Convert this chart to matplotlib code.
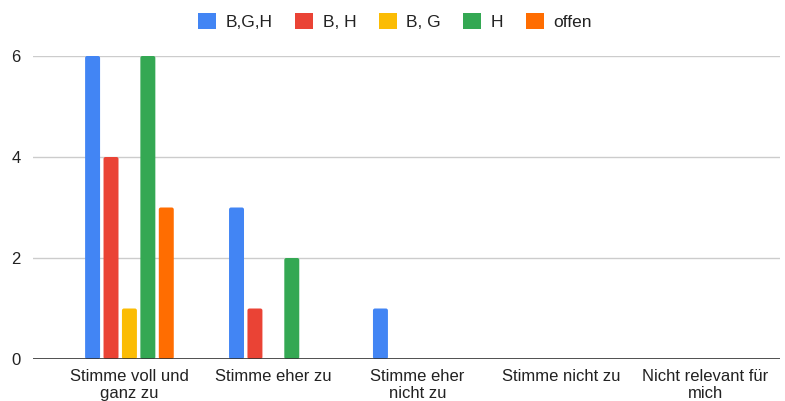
import matplotlib
matplotlib.use("Agg")
import matplotlib.pyplot as plt
import numpy as np
from matplotlib.patches import Patch, FancyBboxPatch

categories = ["Stimme voll und\nganz zu", "Stimme eher zu", "Stimme eher\nnicht zu",
              "Stimme nicht zu", "Nicht relevant für\nmich"]
series_names = ["B,G,H", "B, H", "B, G", "H", "offen"]
bgh = [6, 3, 1, 0, 0]
bh = [4, 1, 0, 0, 0]
bg = [1, 0, 0, 0, 0]
h = [6, 2, 0, 0, 0]
offen = [3, 0, 0, 0, 0]
yticks = [0, 2, 4, 6]

series = [bgh, bh, bg, h, offen]
colors = ["#4285F4", "#EA4335", "#FBBC04", "#34A853", "#FF6D01"]

plt.rcParams["font.family"] = ["Liberation Sans", "DejaVu Sans"]
fig = plt.figure(figsize=(7.85, 4.01), dpi=100)
ax = fig.add_axes([33 / 785, 1 - 359 / 401, (780 - 33) / 785, (359 - 56) / 401])

xlim = (-0.67, 4.52)
ylim = (0, 6)
ax.set_xlim(*xlim)
ax.set_ylim(*ylim)

x = np.arange(len(categories))
step = 0.128
width = 0.104

# data units per pixel in each direction, for slightly rounded bar corners
bbox = ax.get_window_extent()
xpp = (xlim[1] - xlim[0]) / bbox.width
ypp = (ylim[1] - ylim[0]) / bbox.height
radius = 2.0 * xpp

for i, (vals, col) in enumerate(zip(series, colors)):
    bars = ax.bar(x + (i - 2) * step, vals, width=width, color=col, zorder=3)
    for rect in bars:
        if rect.get_height() <= 0:
            continue
        rect.set_visible(False)
        ax.add_patch(FancyBboxPatch((rect.get_x(), rect.get_y()), rect.get_width(),
                                    rect.get_height(),
                                    boxstyle=f"round,pad=0,rounding_size={radius}",
                                    mutation_aspect=ypp / xpp,
                                    facecolor=col, edgecolor="none", zorder=3))

ax.set_yticks(yticks)
ax.set_xticks(x)
ax.set_xticklabels(categories, linespacing=1.12)
ax.grid(axis="y", color="#cccccc", linewidth=1, zorder=0)
ax.axhline(0, color="#333333", linewidth=1.2, zorder=4)
for s in ax.spines.values():
    s.set_visible(False)
ax.tick_params(axis="both", length=0, labelsize=12, colors="#222222")
ax.tick_params(axis="x", pad=7.5)
ax.tick_params(axis="y", pad=9)

handles = [Patch(facecolor=c, edgecolor="none") for c in colors]
fig.legend(handles, series_names, loc="center", bbox_to_anchor=(395 / 785, 1 - 21.5 / 401),
           ncol=5, frameon=False, fontsize=12.5, handlelength=1.03, handleheight=1.03,
           handletextpad=0.55, columnspacing=1.3, labelcolor="#222222")

fig.savefig("out.png", dpi=100)
